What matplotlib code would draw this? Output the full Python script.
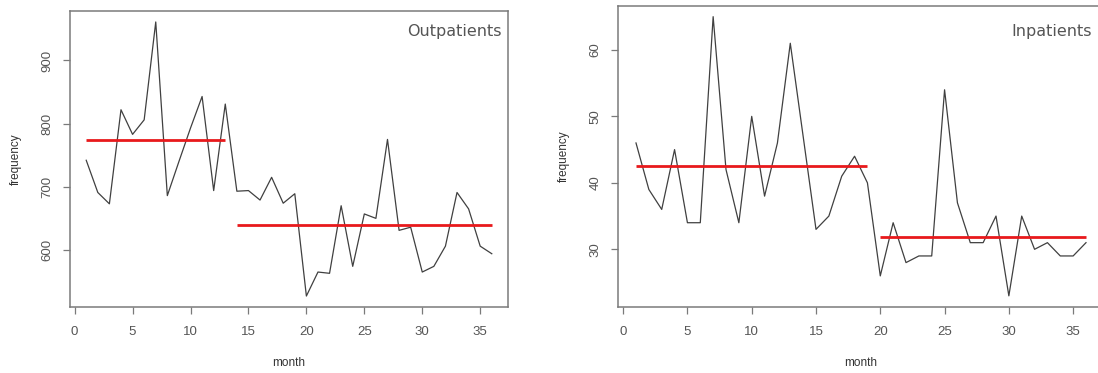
import matplotlib
matplotlib.use("Agg")
import matplotlib.pyplot as plt
import numpy as np

months = list(range(1, 37))
outpatients = [742, 691, 673, 822, 783, 806, 961, 686, 740, 793, 843, 694, 831,
               693, 694, 679, 715, 674, 689, 527, 565, 563, 670, 574, 657, 650,
               775, 631, 636, 565, 574, 606, 691, 665, 606, 594]
inpatients = [46, 39, 36, 45, 34, 34, 65, 42, 34, 50, 38, 46, 61, 47, 33, 35,
              41, 44, 40, 26, 34, 28, 29, 29, 54, 37, 31, 31, 35, 23, 35, 30,
              31, 29, 29, 31]
# segment means: (start month, end month, level)
out_segments = [(1, 13, 774.2), (14, 36, 638.8)]
in_segments = [(1, 19, 42.6), (20, 36, 31.9)]
x_ticks = [0, 5, 10, 15, 20, 25, 30, 35]
out_yticks = [600, 700, 800, 900]
in_yticks = [30, 40, 50, 60]

plt.rcParams['font.family'] = ['Liberation Sans', 'DejaVu Sans']

W, H = 1098, 373
fig = plt.figure(figsize=(W / 100, H / 100), dpi=100)
fig.patch.set_facecolor('white')

axcol = '#7a7a7a'
txtcol = '#555555'


def make_ax(rect_px, x, y, segs, yticks, title):
    l, t, r, b = rect_px
    ax = fig.add_axes([l / W, (H - b) / H, (r - l) / W, (b - t) / H])
    ax.plot(x, y, color='#404040', lw=0.9)
    for s, e, v in segs:
        ax.plot([s, e], [v, v], color='#e8191c', lw=2.0, solid_capstyle='butt')
    ax.margins(x=0.04, y=0.04)
    ax.set_xticks(x_ticks)
    ax.set_yticks(yticks)
    ax.set_yticklabels([str(v) for v in yticks], rotation=90, va='center')
    for sp in ax.spines.values():
        sp.set_color(axcol)
        sp.set_linewidth(1.1)
    ax.tick_params(axis='both', colors=axcol, labelcolor=txtcol, labelsize=9.5,
                   length=5, width=0.9)
    ax.tick_params(axis='x', pad=9)
    ax.tick_params(axis='y', pad=7)
    ax.set_xlabel('month', fontsize=8.5, color='#333333', labelpad=13)
    ax.set_ylabel('frequency', fontsize=8.5, color='#333333', labelpad=14)
    ax.text(0.985, 0.93, title, transform=ax.transAxes, ha='right', va='center',
            fontsize=11.5, color='#555555', family=['DejaVu Sans'])
    return ax


ax1 = make_ax((70, 11, 508, 307), months, outpatients, out_segments,
              out_yticks, 'Outpatients')
ax2 = make_ax((618, 5.5, 1104, 307), months, inpatients, in_segments,
              in_yticks, 'Inpatients')
# right panel title sits near the image edge
ax2.texts[0].set_position((0.975, 0.915))

fig.savefig('out.png', dpi=100, facecolor='white')
